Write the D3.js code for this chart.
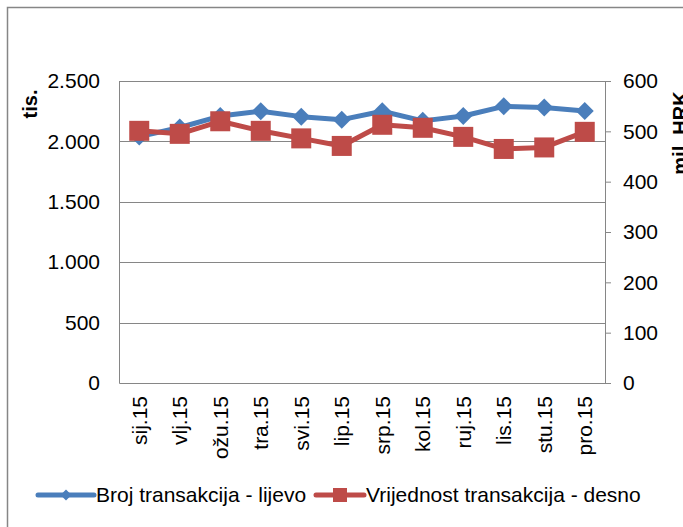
<!DOCTYPE html>
<html>
<head>
<meta charset="utf-8">
<script src="https://cdn.jsdelivr.net/npm/d3@7"></script>
<style>
  body { margin: 0; background: #fff; }
  svg { display: block; font-family: "Liberation Sans", Arial, sans-serif; }
</style>
</head>
<body>
<div id="wrapper"></div>
<script>
// data
const months = ['sij.15', 'vlj.15', 'ožu.15', 'tra.15', 'svi.15', 'lip.15', 'srp.15', 'kol.15', 'ruj.15', 'lis.15', 'stu.15', 'pro.15']
const brojTransakcija = [2040, 2115, 2210, 2250, 2205, 2180, 2250, 2170, 2210, 2290, 2280, 2252]
const vrijednostTransakcija = [501, 495, 520, 501, 486, 471, 513, 507, 489, 465, 468, 499]
const leftTicks = [0, 500, 1000, 1500, 2000, 2500]
const rightTicks = [0, 100, 200, 300, 400, 500, 600]
const seriesNames = ['Broj transakcija - lijevo', 'Vrijednost transakcija - desno']

// dimensions
let dimensions = {
  width: 683,
  height: 527,
  margin: { top: 81, right: 78, bottom: 144, left: 119 }
}
dimensions.boundedWidth = dimensions.width - dimensions.margin.left - dimensions.margin.right
dimensions.boundedHeight = dimensions.height - dimensions.margin.top - dimensions.margin.bottom

const blue = '#4A7EBB', red = '#BE4B48', grey = '#868686'
const fmt = d3.format(',')
const dotFormat = d => fmt(d).replace(/,/g, '.')
const tickFont = 21

// canvas
const wrapper = d3.select('#wrapper')
  .append('svg')
    .attr('width', dimensions.width)
    .attr('height', dimensions.height)

wrapper.append('rect')
  .attr('x', 7.5).attr('y', 7.5)
  .attr('width', 720).attr('height', 600)
  .attr('fill', 'none').attr('stroke', grey).attr('stroke-width', 1.5)

const bounds = wrapper.append('g')
  .attr('transform', `translate(${dimensions.margin.left}, ${dimensions.margin.top})`)

// scales
const xScale = d3.scaleBand()
  .domain(months)
  .range([0, dimensions.boundedWidth])
const yLeft = d3.scaleLinear()
  .domain([0, 2500])
  .range([dimensions.boundedHeight, 0])
const yRight = d3.scaleLinear()
  .domain([0, 600])
  .range([dimensions.boundedHeight, 0])
const xPos = d => xScale(d) + xScale.bandwidth() / 2

// gridlines
bounds.append('g')
  .selectAll('line')
  .data(leftTicks.filter(d => d > 0))
  .join('line')
    .attr('x1', 0).attr('x2', dimensions.boundedWidth)
    .attr('y1', d => Math.round(yLeft(d)) + 0.5).attr('y2', d => Math.round(yLeft(d)) + 0.5)
    .attr('stroke', grey)

// left axis
const leftAxis = bounds.append('g')
  .call(d3.axisLeft(yLeft).tickValues(leftTicks).tickFormat(dotFormat).tickSize(0).tickPadding(19))
leftAxis.select('.domain').attr('stroke', grey)
leftAxis.selectAll('text').attr('font-size', tickFont).attr('fill', '#000').attr('font-family', 'Liberation Sans, Arial')

// right axis
const rightAxis = bounds.append('g')
  .attr('transform', `translate(${dimensions.boundedWidth}, 0)`)
  .call(d3.axisRight(yRight).tickValues(rightTicks).tickSize(6).tickSizeOuter(0).tickPadding(12))
rightAxis.select('.domain').attr('stroke', grey)
rightAxis.selectAll('line').attr('stroke', grey)
rightAxis.selectAll('text').attr('font-size', tickFont).attr('fill', '#000').attr('font-family', 'Liberation Sans, Arial')

// bottom axis
const bottomAxis = bounds.append('g')
  .attr('transform', `translate(0, ${dimensions.boundedHeight})`)
  .call(d3.axisBottom(xScale).tickSize(0).tickPadding(0))
bottomAxis.select('.domain').attr('stroke', grey)
bottomAxis.selectAll('text')
  .attr('font-size', tickFont).attr('fill', '#000').attr('font-family', 'Liberation Sans, Arial')
  .attr('text-anchor', 'end')
  .attr('dy', '0.35em')
  .attr('transform', 'translate(0, 13) rotate(-90)')

// axis titles
wrapper.append('text')
  .attr('transform', 'translate(37, 104) rotate(-90)')
  .attr('text-anchor', 'middle')
  .attr('font-size', 20).attr('font-weight', 'bold')
  .text('tis.')
wrapper.append('text')
  .attr('transform', 'translate(687, 133) rotate(-90)')
  .attr('text-anchor', 'middle')
  .attr('font-size', 20).attr('font-weight', 'bold')
  .text('mil. HRK')

// lines
const lineLeft = d3.line().x((d, i) => xPos(months[i])).y(d => yLeft(d))
const lineRight = d3.line().x((d, i) => xPos(months[i])).y(d => yRight(d))

bounds.append('path')
  .datum(brojTransakcija)
  .attr('d', lineLeft)
  .attr('fill', 'none').attr('stroke', blue).attr('stroke-width', 5).attr('stroke-linejoin', 'round')

const diamond = s => `M0,${-s}L${s},0L0,${s}L${-s},0Z`
bounds.append('g')
  .selectAll('path')
  .data(brojTransakcija)
  .join('path')
    .attr('transform', (d, i) => `translate(${xPos(months[i])}, ${yLeft(d)})`)
    .attr('d', diamond(9))
    .attr('fill', blue)

bounds.append('path')
  .datum(vrijednostTransakcija)
  .attr('d', lineRight)
  .attr('fill', 'none').attr('stroke', red).attr('stroke-width', 5).attr('stroke-linejoin', 'round')

bounds.append('g')
  .selectAll('rect')
  .data(vrijednostTransakcija)
  .join('rect')
    .attr('x', (d, i) => xPos(months[i]) - 10)
    .attr('y', d => yRight(d) - 10)
    .attr('width', 20).attr('height', 20)
    .attr('fill', red)

// legend
const legend = wrapper.append('g').attr('transform', 'translate(0, 495)')
const legendItems = [
  { name: seriesNames[0], color: blue, x: 38, len: 56, marker: 'diamond' },
  { name: seriesNames[1], color: red, x: 316, len: 48, marker: 'square' }
]
legendItems.forEach(item => {
  const g = legend.append('g').attr('transform', `translate(${item.x}, 0)`)
  g.append('line')
    .attr('x1', 0).attr('x2', item.len)
    .attr('stroke', item.color).attr('stroke-width', 5).attr('stroke-linecap', 'round')
  if (item.marker === 'diamond') {
    g.append('path').attr('transform', `translate(${item.len / 2},0)`).attr('d', diamond(5.5)).attr('fill', item.color)
  } else {
    g.append('rect').attr('x', item.len / 2 - 7).attr('y', -7).attr('width', 14).attr('height', 14).attr('fill', item.color)
  }
  g.append('text')
    .attr('x', item.len + 2).attr('dy', '0.35em')
    .attr('font-size', 21)
    .text(item.name)
})
</script>
</body>
</html>
